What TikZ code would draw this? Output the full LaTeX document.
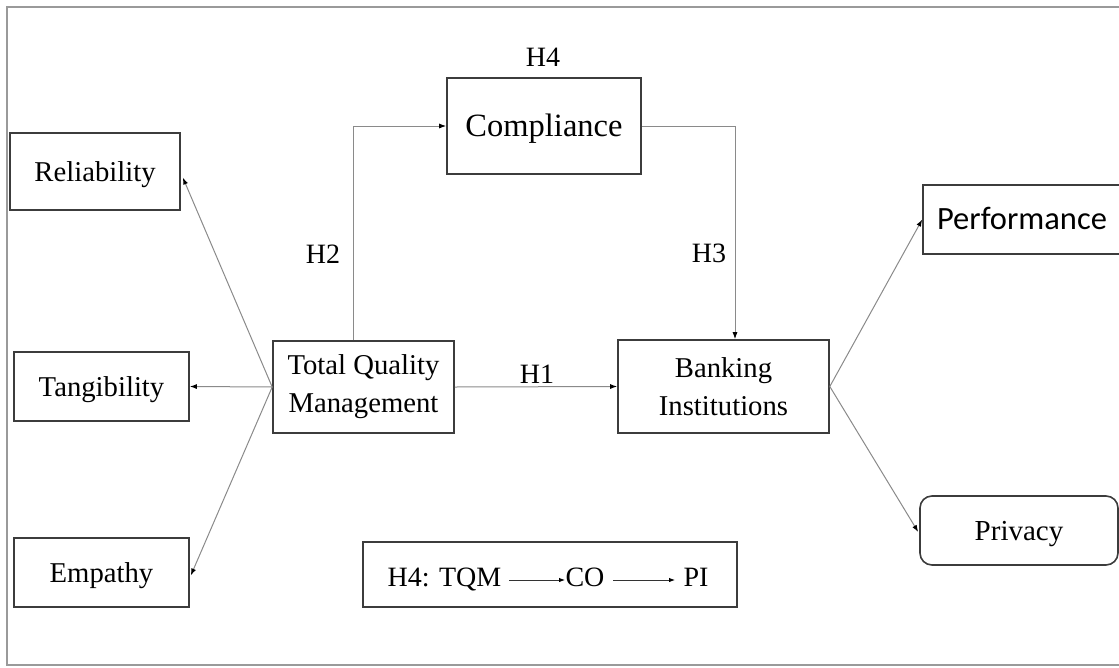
\documentclass[tikz,border=0pt]{standalone}
\usepackage{fontspec}
\setmainfont{Liberation Serif}
\newfontfamily\calibrilike{Carlito}
\usetikzlibrary{arrows.meta,positioning}

\definecolor{framegray}{HTML}{9A9A9A}
\definecolor{boxgray}{HTML}{3C3C3C}
\definecolor{linegray}{HTML}{8A8A8A}

\tikzset{
  box/.style={draw=boxgray, line width=1.6pt, align=center, inner sep=0pt,
              font=\fontsize{28.7}{38}\selectfont},
  oneline/.style={text height=19pt, text depth=0pt},
  lbl/.style={inner sep=0pt, text height=19pt, text depth=0pt,
              font=\fontsize{28}{32}\selectfont},
  conn/.style={draw=linegray, line width=1pt,
               -{Latex[length=7pt,width=5pt,color=black]}},
  smallarrow/.style={draw=black!80, line width=0.9pt,
               -{Latex[length=6pt,width=4.5pt,color=black]}},
}

\begin{document}
\begin{tikzpicture}[x=1pt,y=-1pt]
  \useasboundingbox (0,0) rectangle (1119,667);
  \clip (0,0) rectangle (1119,667);

  % outer frame
  \draw[framegray, line width=1.8pt] (1125,7) -- (7,7) -- (7,665) -- (1125,665);

  % construct boxes
  \node[box, oneline, minimum width=170pt, minimum height=77pt] (rel) at (95,171.5) {Reliability};
  \node[box, oneline, minimum width=175pt, minimum height=69pt] (tan) at (101.5,386.5) {Tangibility};
  \node[box, oneline, minimum width=175pt, minimum height=69pt] (emp) at (101.5,572.5) {Empathy};
  \node[box, minimum width=181pt, minimum height=92pt] (tqm) at (363.5,387) {Total Quality\\Management};
  \node[box, oneline, text height=21pt, minimum width=194pt, minimum height=96pt, font=\fontsize{32.5}{38}\selectfont] (cmp) at (544,126) {Compliance};
  \node[box, minimum width=211pt, minimum height=93pt] (bank) at (723.5,386.5) {Banking\\Institutions};
  \node[box, oneline, text height=20pt, minimum width=198pt, minimum height=69pt, font=\calibrilike\fontsize{32.5}{38}\selectfont] (perf) at (1022,219.5) {Performance};
  \node[box, oneline, rounded corners=12pt, minimum width=198pt, minimum height=69pt, font=\fontsize{29}{34}\selectfont] (priv) at (1019,530.5) {Privacy};

  % hypothesis labels
  \node[lbl] (h4) at (543,57) {H4};
  \node[lbl] (h2) at (323,254) {H2};
  \node[lbl] (h3) at (709,253) {H3};
  \node[lbl] (h1) at (537,374) {H1};

  % TQM to its dimensions
  \draw[conn] (tqm.west) -- ([xshift=2pt,yshift=-6pt]rel.east);
  \draw[conn] (tqm.west) -- (tan.east);
  \draw[conn] (tqm.west) -- ([xshift=1pt,yshift=-3pt]emp.east);

  % structural paths
  \draw[conn] (tqm.east) -- (bank.west);
  \draw[conn] ([xshift=-10.5pt]tqm.north) |- (cmp.west);
  \draw[conn] (cmp.east) -| ([xshift=11.5pt]bank.north);
  \draw[conn] (bank.east) -- (perf.west);
  \draw[conn] (bank.east) -- ([xshift=-1pt,yshift=-1.5pt]priv.west);

  % mediation summary
  \node[box, minimum width=374pt, minimum height=65pt] (med) at (550,574.5) {};
  \node[lbl] (mtqm) at (444.5,577) {H4: TQM};
  \node[lbl] (mco) at (585,577) {CO};
  \node[lbl] (mpi) at (696,577) {PI};
  \coordinate (a1s) at (509,580);
  \coordinate (a1e) at (565,580);
  \coordinate (a2s) at (613,580);
  \coordinate (a2e) at (675,580);
  \draw[smallarrow] (a1s) -- (a1e);
  \draw[smallarrow] (a2s) -- (a2e);
\end{tikzpicture}
\end{document}
